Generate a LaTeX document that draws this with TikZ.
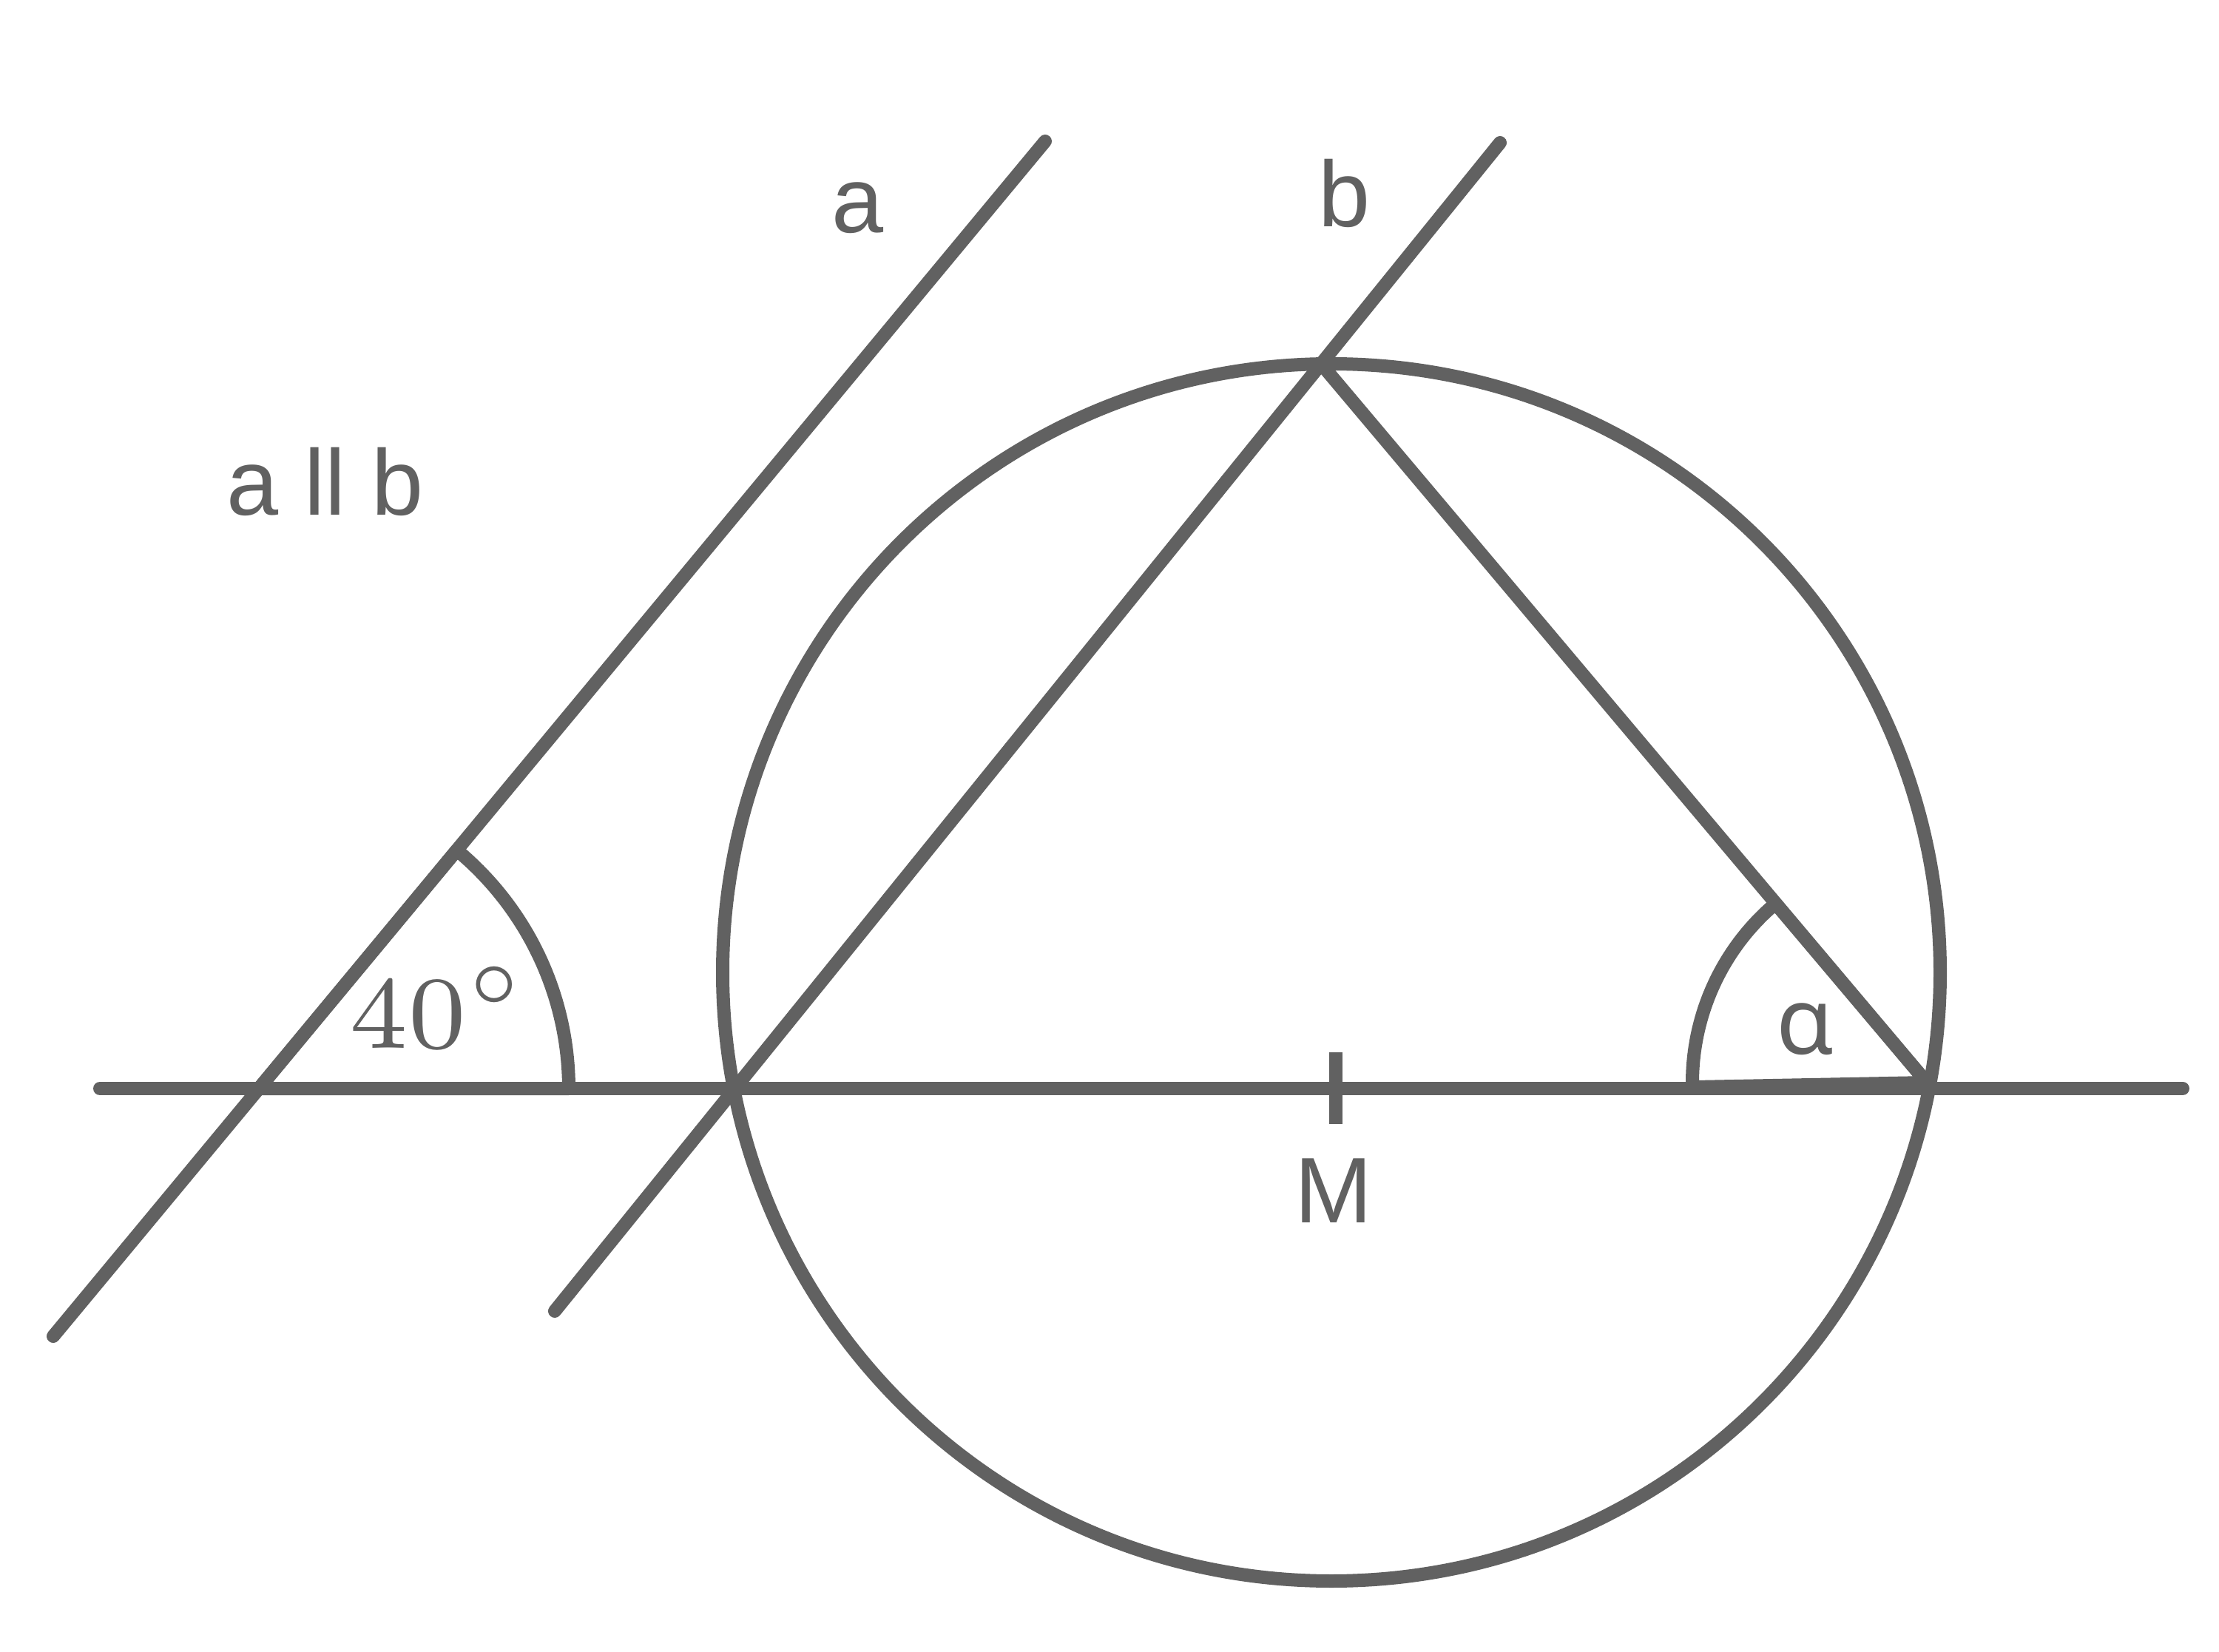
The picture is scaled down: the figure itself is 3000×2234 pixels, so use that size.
\documentclass[tikz,border=0pt]{standalone}
\usepackage{graphicx}
\usepackage{fontspec}
\newfontfamily\labelfont{Liberation Sans}
\newfontfamily\greekfont{Noto Sans}
\definecolor{geogray}{RGB}{97,97,97}
\tikzset{every picture/.style={line width=4.5pt}}
\tikzset{
  geoline/.style={draw=geogray, line cap=round, line join=round},
  geolabel/.style={text=geogray, inner sep=0pt, anchor=base, font=\labelfont\fontsize{31.5}{38}\selectfont},
  anglelabel/.style={text=geogray, inner sep=0pt, anchor=base west}
}
\begin{document}
\begin{tikzpicture}[x=0.25pt,y=0.25pt,yscale=-1,xscale=1]
\useasboundingbox (0,0) rectangle (3000,2234);

%points
\coordinate (A1) at (72,1807);
\coordinate (A2) at (1413,191);
\coordinate (B1) at (750,1773);
\coordinate (B2) at (2028,193);
\coordinate (H1) at (135,1472);
\coordinate (H2) at (2951,1472);
\coordinate (T) at (1786,492);
\coordinate (R) at (2605,1464);
\coordinate (V) at (350,1472);
\coordinate (Z) at (1800,1315);
\coordinate (M1) at (1806,1423);
\coordinate (M2) at (1806,1520);
\coordinate (M3) at (1758,1472);
\coordinate (M4) at (1854,1472);

%lines a, b and the base line
\draw[geoline] (H1) -- (H2);
\draw[geoline] (A1) -- (A2);
\draw[geoline] (B1) -- (B2);

%circle and chord
\draw[geoline] (Z) circle (823);
\draw[geoline] (T) -- (R);

%angle marks
\draw[geoline] (V) -- ++(0:419) arc (0:-50.3:419) -- cycle;
\draw[geoline] (R) -- ++(178.9:317) arc (178.9:229.8:317) -- cycle;

%point M
\draw[geogray] (M1) -- (M2);
\draw[geogray] (M3) -- (M4);

%labels
\node[geolabel] (la) at (1160,315) {a};
\node[geolabel] (lb) at (1818,307) {b};
\node[geolabel] (lab) at (440,697) {a ll b};
\node[geolabel] (lm) at (1803,1653) {M};
\node[geolabel, font=\greekfont\fontsize{31.5}{38}\selectfont] (lalpha) at (2441,1425) {α};
\node[anglelabel] (l40) at (463,1417) {\scalebox{5.0}{\scriptsize$40^{\circ}$}};

\end{tikzpicture}
\end{document}
